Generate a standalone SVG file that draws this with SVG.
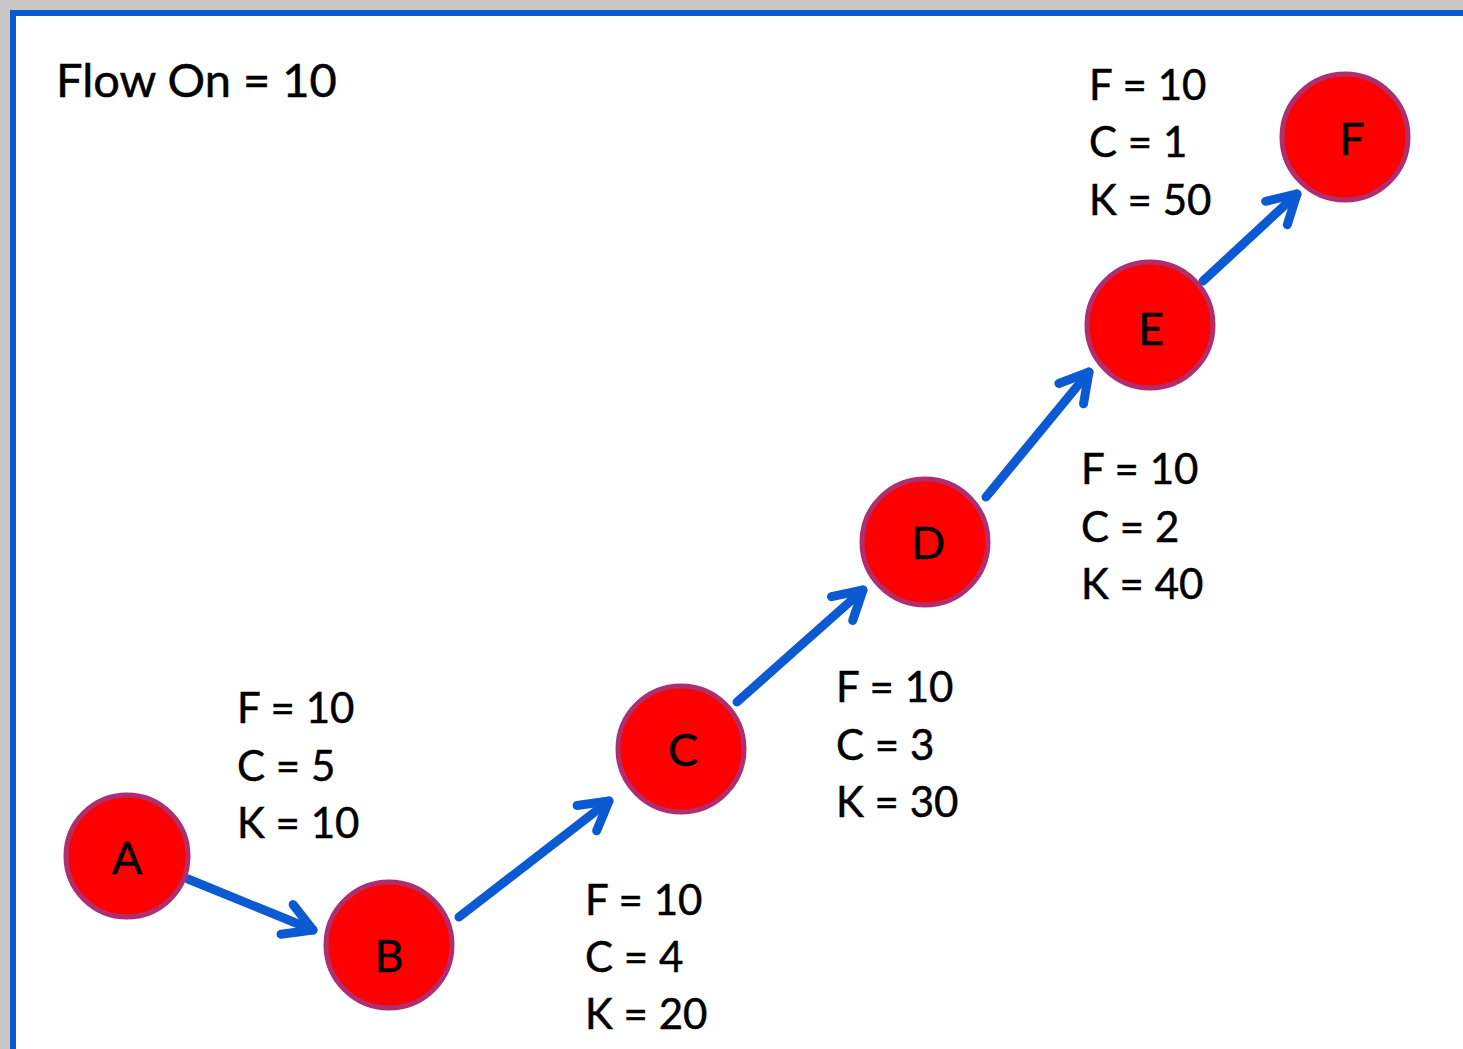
<svg xmlns="http://www.w3.org/2000/svg" width="1463" height="1049" viewBox="0 0 1463 1049">
<style>
.node circle{fill:#ff0000;stroke:#b02d6e;stroke-width:5}
.node text{font-family:Lato,"Liberation Sans",sans-serif;font-size:45px;fill:#000;stroke:#000;stroke-width:0.5;text-anchor:middle}
.lbl{font-family:Lato,"Liberation Sans",sans-serif;font-size:42px;fill:#000;stroke:#000;stroke-width:0.5}
.edge{fill:none;stroke:#0b5ad2;stroke-width:9;stroke-linecap:round}
</style>
<defs>
<marker id="chev" markerUnits="userSpaceOnUse" markerWidth="60" markerHeight="60" viewBox="-40 -30 60 60" refX="0" refY="0" orient="auto" overflow="visible">
<path d="M-28,-16 L0,0 L-28,16" fill="none" stroke="#0b5ad2" stroke-width="9" stroke-linecap="round" stroke-linejoin="round"/>
</marker>
</defs>
<rect x="0" y="0" width="1463" height="1049" fill="#c8c8c8"/>
<rect x="10" y="10" width="1453" height="1039" fill="#0b5ad2"/>
<rect x="16" y="16" width="1447" height="1033" fill="#ffffff"/>
<text class="lbl" x="56" y="97" style="font-size:47px">Flow On = 10</text>
<g id="connectors">
<path class="edge" d="M188,879 L313,930" marker-end="url(#chev)"/>
<path class="edge" d="M459,917 L609,801" marker-end="url(#chev)"/>
<path class="edge" d="M737,702 L863,590" marker-end="url(#chev)"/>
<path class="edge" d="M986,497 L1089,372" marker-end="url(#chev)"/>
<path class="edge" d="M1203,281 L1297,194" marker-end="url(#chev)"/>
</g>
<g id="labels">
<text class="lbl" x="237" y="723">F = 10</text>
<text class="lbl" x="237" y="781">C = 5</text>
<text class="lbl" x="237" y="838">K = 10</text>
<text class="lbl" x="585" y="915">F = 10</text>
<text class="lbl" x="585" y="972">C = 4</text>
<text class="lbl" x="585" y="1029">K = 20</text>
<text class="lbl" x="836" y="702">F = 10</text>
<text class="lbl" x="836" y="760">C = 3</text>
<text class="lbl" x="836" y="817">K = 30</text>
<text class="lbl" x="1081" y="484">F = 10</text>
<text class="lbl" x="1081" y="542">C = 2</text>
<text class="lbl" x="1081" y="599">K = 40</text>
<text class="lbl" x="1089" y="100">F = 10</text>
<text class="lbl" x="1089" y="157">C = 1</text>
<text class="lbl" x="1089" y="215">K = 50</text>
</g>
<g id="node-A" class="node"><circle cx="127" cy="856" r="61"/><text x="127" y="874">A</text></g>
<g id="node-B" class="node"><circle cx="389" cy="945" r="63"/><text x="389" y="972">B</text></g>
<g id="node-C" class="node"><circle cx="681" cy="749" r="63"/><text x="683" y="766">C</text></g>
<g id="node-D" class="node"><circle cx="925" cy="542" r="63"/><text x="928" y="559">D</text></g>
<g id="node-E" class="node"><circle cx="1150" cy="325" r="63"/><text x="1151" y="345">E</text></g>
<g id="node-F" class="node"><circle cx="1345" cy="137" r="63"/><text x="1352" y="155">F</text></g>
</svg>
